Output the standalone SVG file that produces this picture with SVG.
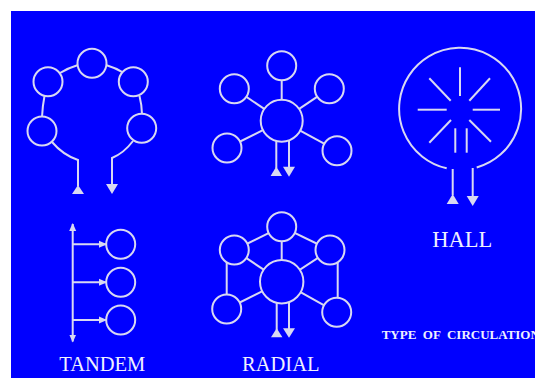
<svg xmlns="http://www.w3.org/2000/svg" width="535" height="378" viewBox="0 0 535 378">
  <defs>
    <style>
      .ln { fill: none; stroke: #D8D8F2; stroke-width: 2; }
      .rm { fill: #0000FF; stroke: #D8D8F2; stroke-width: 2; }
      .tri { fill: #D8D8F2; stroke: none; }
      .lbl { font-family: "Liberation Serif", "Times New Roman", serif; fill: #F0F0FF; text-anchor: middle; }
      .ttl { font-family: "Liberation Serif", "Times New Roman", serif; fill: #F0F0FF; font-weight: bold; font-size: 13px; }
    </style>
    <marker id="ah" viewBox="0 0 8 8" refX="7" refY="4" markerWidth="8" markerHeight="8" markerUnits="userSpaceOnUse" orient="auto-start-reverse">
      <path d="M0,0.5 L8,4 L0,7.5 Z" fill="#D8D8F2"/>
    </marker>
  </defs>

  <rect x="0" y="0" width="535" height="378" fill="#FFFFFF"/>
  <rect x="11" y="11" width="524" height="367" fill="#0000FF"/>

  <!-- connectors -->
  <g id="connectors">
    <!-- loop -->
    <path class="ln" d="M60,73 Q68,68 78,65"/>
    <path class="ln" d="M106,65 Q116,68 124,73"/>
    <path class="ln" d="M44.5,96 Q42.5,106 42,117"/>
    <path class="ln" d="M139.5,96 Q141.8,105 142,114"/>
    <path class="ln" d="M52,142 Q63,155 78,160 L78,186"/>
    <path class="ln" d="M133,141 Q124,153 112,158 L112,185"/>
    <!-- star -->
    <line class="ln" x1="281.7" y1="120.7" x2="281.7" y2="65.7"/>
    <line class="ln" x1="281.7" y1="120.7" x2="234.3" y2="88.7"/>
    <line class="ln" x1="281.7" y1="120.7" x2="329.3" y2="88.7"/>
    <line class="ln" x1="281.7" y1="120.7" x2="227" y2="148"/>
    <line class="ln" x1="281.7" y1="120.7" x2="337" y2="150.7"/>
    <line class="ln" x1="276.3" y1="140" x2="276.3" y2="168"/>
    <line class="ln" x1="289" y1="140" x2="289" y2="167"/>
    <!-- hall -->
    <line class="ln" x1="452.7" y1="169" x2="452.7" y2="195"/>
    <line class="ln" x1="472.7" y1="168" x2="472.7" y2="196"/>
    <!-- tandem -->
    <line class="ln" x1="72.7" y1="224" x2="72.7" y2="341.5" marker-start="url(#ah)" marker-end="url(#ah)"/>
    <line class="ln" x1="72.7" y1="244.3" x2="106" y2="244.3" marker-end="url(#ah)"/>
    <line class="ln" x1="72.7" y1="282.3" x2="106" y2="282.3" marker-end="url(#ah)"/>
    <line class="ln" x1="72.7" y1="320" x2="106" y2="320" marker-end="url(#ah)"/>
    <!-- cluster -->
    <line class="ln" x1="281.7" y1="226.7" x2="234.3" y2="250"/>
    <line class="ln" x1="281.7" y1="226.7" x2="330" y2="250"/>
    <line class="ln" x1="281.7" y1="226.7" x2="281.7" y2="281.7"/>
    <line class="ln" x1="234.3" y1="250" x2="281.7" y2="281.7"/>
    <line class="ln" x1="330" y1="250" x2="281.7" y2="281.7"/>
    <line class="ln" x1="226.7" y1="262.5" x2="226.7" y2="296"/>
    <line class="ln" x1="337.7" y1="262.5" x2="337.7" y2="299"/>
    <line class="ln" x1="226.7" y1="309" x2="281.7" y2="281.7"/>
    <line class="ln" x1="336.7" y1="312.3" x2="281.7" y2="281.7"/>
    <line class="ln" x1="276.7" y1="302" x2="276.7" y2="330"/>
    <line class="ln" x1="289" y1="302" x2="289" y2="329"/>
  </g>

  <!-- loop plan -->
  <g id="loop">
    <circle class="rm" cx="92" cy="63.3" r="14.5"/>
    <circle class="rm" cx="48" cy="81.7" r="14.5"/>
    <circle class="rm" cx="133.3" cy="81.7" r="14.5"/>
    <circle class="rm" cx="42" cy="131" r="14.5"/>
    <circle class="rm" cx="141.7" cy="128.3" r="14.5"/>
    <path class="tri" d="M78,185 L84,194 L72,194 Z"/>
    <path class="tri" d="M106,184 L118,184 L112,194 Z"/>
  </g>

  <!-- radial plan -->
  <g id="star">
    <circle class="rm" cx="281.7" cy="120.7" r="21"/>
    <circle class="rm" cx="281.7" cy="65.7" r="14.5"/>
    <circle class="rm" cx="234.3" cy="88.7" r="14.5"/>
    <circle class="rm" cx="329.3" cy="88.7" r="14.5"/>
    <circle class="rm" cx="227" cy="148" r="14.5"/>
    <circle class="rm" cx="337" cy="150.7" r="14.5"/>
    <path class="tri" d="M276.3,166.5 L282,176 L270.6,176 Z"/>
    <path class="tri" d="M283,166.7 L295,166.7 L289,176.7 Z"/>
  </g>

  <!-- hall plan -->
  <g id="hall">
    <path class="ln" d="M446.7,168.3 A61,61 0 1 1 476.7,167.5"/>
    <line class="ln" x1="460" y1="67.3" x2="460" y2="96"/>
    <line class="ln" x1="429.3" y1="78.3" x2="450.7" y2="100.7"/>
    <line class="ln" x1="490" y1="78.3" x2="469.3" y2="100.7"/>
    <line class="ln" x1="417.7" y1="109.7" x2="446.7" y2="109.7"/>
    <line class="ln" x1="472.7" y1="109.7" x2="500" y2="109.7"/>
    <line class="ln" x1="451" y1="120" x2="429.3" y2="142.7"/>
    <line class="ln" x1="469.3" y1="120" x2="491" y2="141.7"/>
    <line class="ln" x1="455.3" y1="128.3" x2="455.3" y2="152.7"/>
    <line class="ln" x1="466.7" y1="128.3" x2="466.7" y2="152.7"/>
    <path class="tri" d="M452.7,194 L458.7,204 L446.7,204 Z"/>
    <path class="tri" d="M466.7,196 L478.7,196 L472.7,206 Z"/>
    <text class="lbl" x="462.2" y="246.7" font-size="22.5">HALL</text>
  </g>

  <!-- tandem plan -->
  <g id="tandem">
    <circle class="rm" cx="120.7" cy="244.3" r="14.5"/>
    <circle class="rm" cx="120.7" cy="282.3" r="14.5"/>
    <circle class="rm" cx="120.7" cy="320" r="14.5"/>
    <text class="lbl" x="102.3" y="370.7" font-size="20.5">TANDEM</text>
  </g>

  <!-- clustered radial plan -->
  <g id="radial">
    <circle class="rm" cx="281.7" cy="281.7" r="21.7"/>
    <circle class="rm" cx="281.7" cy="226.7" r="14.5"/>
    <circle class="rm" cx="234.3" cy="250" r="14.5"/>
    <circle class="rm" cx="330" cy="250" r="14.5"/>
    <circle class="rm" cx="226.7" cy="309" r="14.5"/>
    <circle class="rm" cx="336.7" cy="312.3" r="14.5"/>
    <path class="tri" d="M276.7,328.3 L282.4,337.3 L271,337.3 Z"/>
    <path class="tri" d="M283,328.3 L295,328.3 L289,337.7 Z"/>
    <text class="lbl" x="280.8" y="370.7" font-size="20.5">RADIAL</text>
  </g>

  <g id="title">
    <text class="ttl" x="381.7" y="339.3" xml:space="preserve">TYPE  OF  CIRCULATION</text>
  </g>
</svg>
